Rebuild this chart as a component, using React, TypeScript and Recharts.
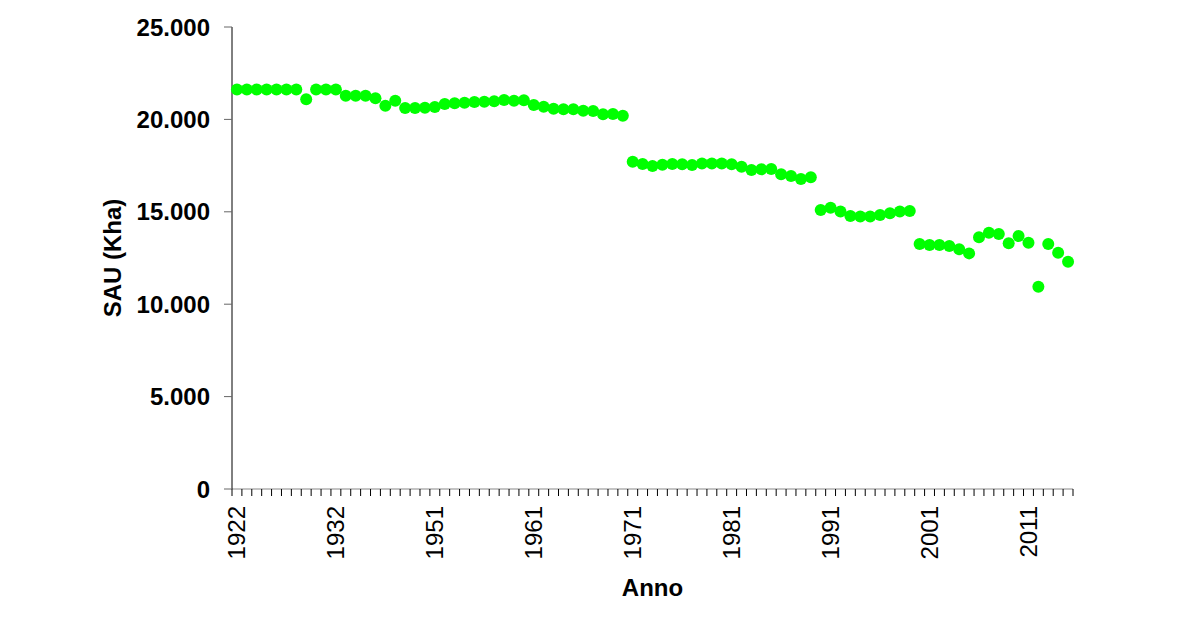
import React from 'react';
import { LineChart, Line, XAxis, YAxis, Label } from 'recharts';

const years = [
  '1922', '1923', '1924', '1925', '1926', '1927', '1928', '1929', '1930', '1931',
  '1932', '1933', '1934', '1935', '1936', '1937', '1938', '1939', '1940', '1941',
  '1951', '1952', '1953', '1954', '1955', '1956', '1957', '1958', '1959', '1960',
  '1961', '1962', '1963', '1964', '1965', '1966', '1967', '1968', '1969', '1970',
  '1971', '1972', '1973', '1974', '1975', '1976', '1977', '1978', '1979', '1980',
  '1981', '1982', '1983', '1984', '1985', '1986', '1987', '1988', '1989', '1990',
  '1991', '1992', '1993', '1994', '1995', '1996', '1997', '1998', '1999', '2000',
  '2001', '2002', '2003', '2004', '2005', '2006', '2007', '2008', '2009', '2010',
  '2011', '2012', '2013', '2014', '2015',
];

const sau = [
  21620, 21620, 21620, 21620, 21620, 21620, 21620, 21090, 21620, 21620,
  21620, 21280, 21280, 21280, 21140, 20740, 21010, 20620, 20620, 20630,
  20670, 20830, 20870, 20900, 20940, 20960, 20980, 21050, 21010, 21030,
  20780, 20690, 20580, 20550, 20550, 20470, 20450, 20280, 20290, 20200,
  17710, 17590, 17480, 17550, 17590, 17570, 17530, 17620, 17620, 17620,
  17570, 17440, 17260, 17300, 17320, 17030, 16940, 16770, 16870, 15100,
  15220, 15010, 14770, 14740, 14740, 14830, 14920, 15010, 15040, 13260,
  13200, 13200, 13150, 12970, 12750, 13620, 13870, 13800, 13300, 13690,
  13330, 10950, 13260, 12790, 12300,
];

const yTicks = [0, 5000, 10000, 15000, 20000, 25000];
const labelYears = ['1922', '1932', '1951', '1961', '1971', '1981', '1991', '2001', '2011'];

const data = years.map((y, i) => ({ year: y, sau: sau[i] }));

const FONT = '"Liberation Sans", Arial, Helvetica, sans-serif';
const PLOT_LEFT = 232;
const PLOT_RIGHT = 1073;
const HALF_BAND = (PLOT_RIGHT - PLOT_LEFT) / years.length / 2;

const fmt = (v: number) => String(v).replace(/\B(?=(\d{3})+(?!\d))/g, '.');

const XTick = (props: any) => {
  const { x, y, payload, index } = props;
  const show = labelYears.includes(String(payload.value));
  const isLast = index === years.length - 1;
  const ty = y + 17;
  return (
    <g>
      <line x1={x - HALF_BAND} x2={x - HALF_BAND} y1={y} y2={y + 7} stroke="#000" strokeWidth={1} />
      {isLast && (
        <line x1={x + HALF_BAND} x2={x + HALF_BAND} y1={y} y2={y + 7} stroke="#000" strokeWidth={1} />
      )}
      {show && (
        <text
          x={x}
          y={ty}
          transform={`rotate(-90, ${x}, ${ty})`}
          textAnchor="end"
          dominantBaseline="central"
          fontSize={24}
          fontFamily={FONT}
          fill="#000"
        >
          {payload.value}
        </text>
      )}
    </g>
  );
};

const labelStyle = { fontSize: 24, fontWeight: 'bold', fill: '#000', fontFamily: FONT } as any;

export default function App() {
  return (
    <div style={{ position: 'absolute', left: 0, top: 0, background: '#fff' }}>
      <LineChart
        width={1200}
        height={630}
        data={data}
        margin={{ top: 27, right: 1200 - PLOT_RIGHT, bottom: 0, left: 0 }}
      >
        <XAxis
          dataKey="year"
          scale="band"
          interval={0}
          height={141}
          tick={<XTick />}
          tickLine={false}
          tickSize={0}
          tickMargin={0}
          axisLine={{ stroke: '#888', strokeWidth: 1 }}
        >
          <Label value="Anno" position="insideBottom" offset={34} style={labelStyle} />
        </XAxis>
        <YAxis
          domain={[0, 25000]}
          ticks={yTicks}
          interval={0}
          tickFormatter={fmt}
          width={PLOT_LEFT}
          tickSize={8}
          tickMargin={14}
          axisLine={{ stroke: '#000', strokeWidth: 1 }}
          tickLine={{ stroke: '#666', strokeWidth: 1 }}
          tick={{ fontSize: 24, fontWeight: 'bold', fill: '#000', fontFamily: FONT }}
        >
          <Label value="SAU (Kha)" angle={-90} position="center" dx={-4} style={labelStyle} />
        </YAxis>
        <Line
          dataKey="sau"
          stroke="none"
          isAnimationActive={false}
          dot={{ r: 6, fill: '#00ff00', stroke: 'none', strokeWidth: 0 }}
          activeDot={false}
        />
      </LineChart>
    </div>
  );
}
